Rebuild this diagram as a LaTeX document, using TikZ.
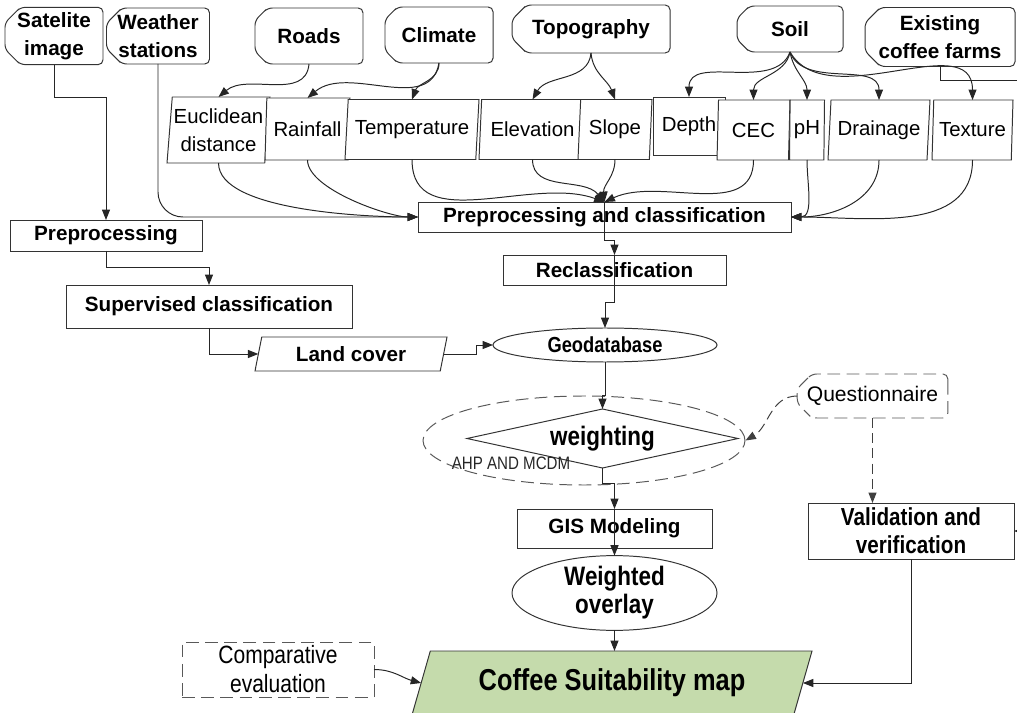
\documentclass[tikz,border=0pt]{standalone}
\usepackage{fontspec}
\setmainfont{Liberation Sans}
\newfontfamily\narrowfont{Liberation Sans}[FakeStretch=0.84]
\usetikzlibrary{shapes.geometric,shapes.misc,arrows.meta}
\newcommand{\pxu}{0.25mm}
\definecolor{mapgreen}{RGB}{197,219,172}
\tikzset{
 sz/.style 2 args={minimum width=#1*\pxu, minimum height=#2*\pxu},
 base/.style={draw=black!80, line width=0.7pt, fill=white, inner sep=0pt, outer sep=0pt, align=center, text=black},
 bt/.style={font=\fontsize{14.7}{19.9}\selectfont\bfseries},
 rt/.style={font=\fontsize{14.5}{19.9}\selectfont},
 topbox/.style={base, chamfered rectangle, chamfered rectangle corners={north west,south west}, chamfered rectangle xsep=2.6mm, rounded corners=1.2mm},
 box/.style={base, rectangle},
 para/.style 2 args={base, trapezium, trapezium left angle=#1, trapezium right angle=#2, trapezium stretches body},
 oval/.style={base, ellipse},
 dsh/.style={dash pattern=on 3.2mm off 1.6mm, draw=black!65},
 arr/.style={draw=black!85, line width=0.7pt, -{Triangle[length=2.6mm,width=2mm]}},
 darr/.style={arr, dash pattern=on 2.5mm off 1.3mm, draw=black!75},
}
\begin{document}
\begin{tikzpicture}[x=0.25mm,y=-0.25mm]
\useasboundingbox (0,0) rectangle (1017,713);
\clip (0,0) rectangle (1017,713);
% top row
\node[topbox,bt,sz={98}{56}] (sat) at (54,36) {Satelite\\image};
\node[topbox,bt,sz={103}{56}] (ws) at (158,36) {Weather\\stations};
\node[topbox,bt,sz={108}{56}] (roads) at (309,36) {Roads};
\node[topbox,bt,sz={108}{56}] (clim) at (439,35) {Climate};
\node[topbox,bt,sz={158}{48}] (topo) at (591,29) {Topography};
\node[topbox,bt,sz={106}{46}] (soil) at (790,29) {Soil};
\node[topbox,bt,sz={150}{59}] (ecf) at (940,37) {Existing\\coffee farms};
% parameters
\node[para={83}{97},rt,sz={103}{66}] (eu) at (218.5,130) {Euclidean\\distance};
\node[para={83}{97},rt,sz={85}{62}] (rain) at (307.5,129) {Rainfall};
\node[para={80}{100},rt,sz={134}{60}] (temp) at (412,129.5) {Temperature};
\node[para={80}{100},rt,sz={107}{60}] (elev) at (532.5,129.5) {Elevation};
\node[para={82}{98},rt,sz={74}{60}] (slope) at (615,129.5) {Slope};
\node[box,rt,sz={72}{58}] (depth) at (689,126) {Depth};
\node[para={84}{96},rt,sz={73}{60}] (cec) at (753.5,130) {CEC};
\node[para={88}{92},rt,sz={35}{60}] (ph) at (807,130) {pH};
\node[para={81}{99},rt,sz={102}{60}] (drain) at (879,130) {Drainage};
\node[para={83}{97},rt,sz={81}{60}] (tex) at (972.5,130) {Texture};
% processing
\node[box,bt,sz={373}{30}] (pc) at (604.5,217) {Preprocessing and classification};
\node[box,bt,sz={192}{31}] (pre) at (106,235.5) {Preprocessing};
\node[box,bt,sz={223}{30}] (rec) at (614.5,270) {Reclassification};
\node[box,bt,sz={286}{43}] (sup) at (209,306.5) {Supervised classification};
\node[para={66}{114},bt,sz={192}{34}] (lc) at (351,354) {Land cover};
\node[oval,sz={224}{34},font=\narrowfont\fontsize{15.5}{18}\selectfont\bfseries] (geo) at (605,345) {Geodatabase};
\node[ellipse,dsh,line width=0.7pt,sz={322}{89}] (ahpell) at (584,440.5) {};
\node[base,diamond,aspect=4.6,sz={271}{59},font=\narrowfont\fontsize{19}{22}\selectfont\bfseries] (wt) at (602.5,438.5) {weighting};
\node[font=\narrowfont\fontsize{12.8}{15}\selectfont,text=black!85,inner sep=0pt] (ahp) at (511,463) {AHP AND MCDM};
\node[topbox,dsh,font=\fontsize{15}{18}\selectfont,sz={149}{44}] (q) at (872.5,396) {Questionnaire};
\node[box,font=\narrowfont\fontsize{17.5}{19.9}\selectfont\bfseries,sz={206}{56}] (val) at (911,531) {Validation and\\verification};
\node[box,bt,sz={195}{39}] (gis) at (614.5,528.5) {GIS Modeling};
\node[oval,font=\narrowfont\fontsize{19}{19.9}\selectfont\bfseries,sz={205}{70}] (wo) at (614.5,593) {Weighted\\overlay};
\node[para={57}{123},fill=mapgreen,font=\narrowfont\fontsize{21.5}{24}\selectfont\bfseries,sz={400}{64}] (coffee) at (612,683) {Coffee Suitability map};
\node[box,dsh,font=\narrowfont\fontsize{17.8}{20.6}\selectfont,sz={192}{55}] (comp) at (278,669.5) {Comparative\\evaluation};
% connectors
\draw[arr] (sat.south) -- ++(0,33) -| (pre.north);
\draw[arr] (pre.south) -- ++(0,16) -| (sup.north);
\draw[arr] (sup.south) |- (lc.west);
\draw[arr] (lc.east) -- ++(33,0) |- (geo.west);
\draw[arr] (roads.south) to[out=-95,in=40] (eu.north);
\draw[arr] (clim.south) to[out=-100,in=40] (rain.north);
\draw[arr] (clim.south) to[out=-90,in=70] (temp.north);
\draw[arr] (topo.south) to[out=-95,in=60] (elev.north);
\draw[arr] (topo.south) to[out=-85,in=110] (slope.north);
\draw[arr] (soil.south) to[out=-110,in=90] (depth.north);
\draw[arr] (soil.south) to[out=-100,in=90] (cec.north);
\draw[arr] (soil.south) to[out=-80,in=90] (ph.north);
\draw[arr] (soil.south) to[out=-70,in=90] (drain.north);
\draw[arr] (soil.south) to[out=-60,in=90] (tex.north);
\draw[arr] (ws.south) -- ++(0,128) to[out=-90,in=180] ++(25,25) -- (pc.west);
\draw[arr] (eu.south) to[out=-90,in=180,looseness=0.6] (pc.west);
\draw[arr] (rain.south) to[out=-90,in=180,looseness=0.6] (pc.west);
\draw[arr] (temp.south) to[out=-90,in=160] (pc.north);
\draw[arr] (elev.south) to[out=-90,in=130] (pc.north);
\draw[arr] (slope.south) to[out=-90,in=95] (pc.north);
\draw[arr] (cec.south) to[out=-90,in=25] (pc.north);
\draw[arr] (ph.south) to[out=-90,in=0] (pc.east);
\draw[arr] (drain.south) to[out=-90,in=0] (pc.east);
\draw[arr] (tex.south) to[out=-90,in=0] (pc.east);
\draw[arr] (pc.north) -- ++(0,38) -| (rec.north);
\draw[arr] (rec.north) -- ++(0,47) -| (geo.north);
\draw[arr] (geo.south) -- ++(0,33) -| (wt.north);
\draw[arr] (wt.south) -- ++(0,15) -| (gis.north);
\draw[arr] (gis.north) -- (wo.north);
\draw[arr] (wo.south) -- (wo.south |- coffee.north);
\draw[arr] (comp.east) to[out=0,in=165] (coffee.west);
\draw[arr] (val.south) |- (coffee.east);
\draw[darr] (q.south) -- (q.south |- val.north);
\draw[darr] (q.west) to[out=180,in=30] (ahpell.east);
\coordinate (offr) at (1040,80);
\draw[arr] (ecf.south) |- (offr) |- (val.east);
\end{tikzpicture}
\end{document}
